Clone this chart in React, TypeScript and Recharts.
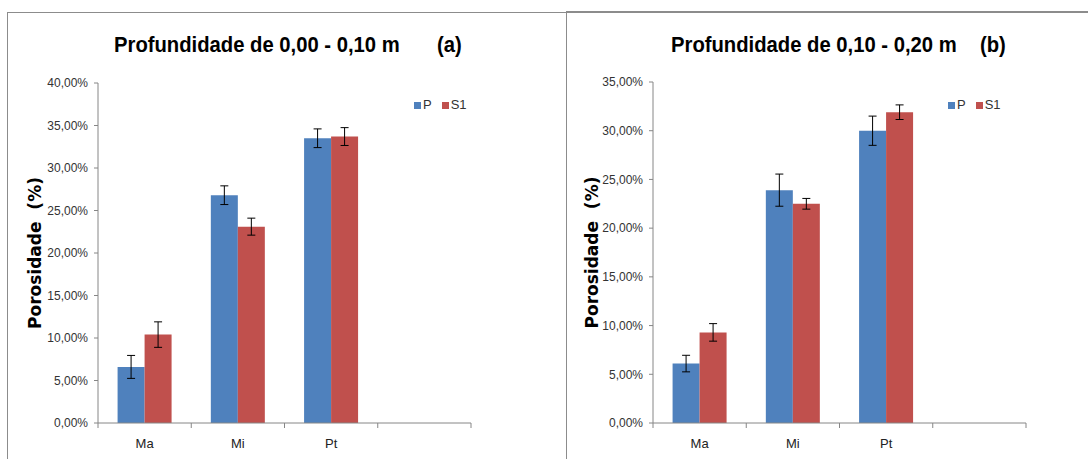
import React from "react";
import { BarChart, Bar, XAxis, YAxis, Legend, ErrorBar, Label } from "recharts";

const categories = ["Ma", "Mi", "Pt", ""];

const aP = [6.6, 26.8, 33.5, null];
const aPErr = [1.35, 1.1, 1.1, null];
const aS1 = [10.4, 23.1, 33.7, null];
const aS1Err = [1.5, 1.0, 1.05, null];

const bP = [6.1, 23.9, 30.0, null];
const bPErr = [0.85, 1.65, 1.5, null];
const bS1 = [9.3, 22.5, 31.9, null];
const bS1Err = [0.9, 0.55, 0.75, null];

const ticksA = [0, 5, 10, 15, 20, 25, 30, 35, 40];
const ticksB = [0, 5, 10, 15, 20, 25, 30, 35];

const BLUE = "#4F81BD";
const RED = "#C0504D";
const AXIS = "#868686";
const FONT = "'Liberation Sans', Arial, sans-serif";

const build = (p: (number | null)[], pe: (number | null)[], s: (number | null)[], se: (number | null)[]) =>
  categories.map((c, i) => ({ cat: c, P: p[i], pErr: pe[i], S1: s[i], sErr: se[i] }));

const dataA = build(aP, aPErr, aS1, aS1Err);
const dataB = build(bP, bPErr, bS1, bS1Err);

const fmt = (v: number) => v.toFixed(2).replace(".", ",") + "%";

function CatTick(props: any) {
  const { x, y, payload, index, visibleTicksCount } = props;
  const off = payload && payload.offset ? payload.offset : 0;
  const last = index === visibleTicksCount - 1;
  return (
    <g>
      <line x1={x - off} x2={x - off} y1={y} y2={y + 5} stroke={AXIS} />
      {last ? <line x1={x + off} x2={x + off} y1={y} y2={y + 5} stroke={AXIS} /> : null}
      <text x={x} y={y + 20} textAnchor="middle" dominantBaseline="central" fontSize={13} fill="#222" fontFamily={FONT}>
        {payload.value}
      </text>
    </g>
  );
}

function YLab(props: any) {
  const { viewBox, cx, dy } = props;
  const x = viewBox.x + cx;
  const y = viewBox.y + viewBox.height / 2 + dy;
  return (
    <text
      x={x}
      y={y}
      transform={`rotate(-90, ${x}, ${y})`}
      textAnchor="middle"
      dominantBaseline="central"
      fontSize={17}
      fontWeight="bold"
      fontFamily="'DejaVu Sans', Verdana, sans-serif"
      fill="#000"
      style={{ whiteSpace: "pre" }}
    >
      {"Porosidade  (%)"}
    </text>
  );
}

type PanelProps = {
  data: any[];
  ticks: number[];
  max: number;
  left: number;
  top: number;
  width: number;
  margin: { top: number; right: number; left: number; bottom: number };
  yWidth: number;
  labelCx: number;
  labelDy: number;
  legendPos: { left: number; top: number };
  title: string;
  tag: string;
  titleLeft: number;
  tagLeft: number;
};

const titleStyle: React.CSSProperties = {
  position: "absolute",
  top: 29,
  fontFamily: FONT,
  fontWeight: "bold",
  fontSize: 22,
  lineHeight: "32px",
  color: "#000",
  whiteSpace: "nowrap",
  transform: "scaleX(0.92)",
  transformOrigin: "left center",
};

function Panel(p: PanelProps) {
  return (
    <>
      <div
        style={{
          position: "absolute",
          left: p.left,
          top: p.top,
          width: 2000,
          height: 600,
          border: "1px solid #8c8c8c",
          boxSizing: "border-box",
        }}
      />
      <div style={{ position: "absolute", left: p.left, top: p.top, fontFamily: FONT }}>
        <BarChart width={p.width} height={460} data={p.data} margin={p.margin} barCategoryGap="21%" barGap={0}>
          <XAxis
            dataKey="cat"
            stroke={AXIS}
            tickLine={false}
            tickSize={0}
            tickMargin={0}
            height={30}
            interval={0}
            tick={<CatTick />}
          />
          <YAxis
            domain={[0, p.max]}
            ticks={p.ticks}
            tickFormatter={fmt}
            stroke={AXIS}
            tickSize={4}
            tickMargin={6}
            width={p.yWidth}
            interval={0}
            tick={{ fill: "#333", fontSize: 12, fontFamily: FONT }}
          >
            <Label content={<YLab cx={p.labelCx} dy={p.labelDy} />} />
          </YAxis>
          <Legend
            layout="horizontal"
            verticalAlign="middle"
            align="center"
            iconType="square"
            iconSize={7}
            wrapperStyle={{ left: p.legendPos.left, top: p.legendPos.top, width: "auto", fontSize: 13, fontFamily: FONT }}
            formatter={(v: any) => <span style={{ color: "#333", marginLeft: -2 }}>{v}</span>}
          />
          <Bar dataKey="P" name="P" fill={BLUE} isAnimationActive={false}>
            <ErrorBar dataKey="pErr" width={4} stroke="#000" strokeWidth={1} />
          </Bar>
          <Bar dataKey="S1" name="S1" fill={RED} isAnimationActive={false}>
            <ErrorBar dataKey="sErr" width={4} stroke="#000" strokeWidth={1} />
          </Bar>
        </BarChart>
      </div>
      <div style={{ ...titleStyle, left: p.titleLeft }}>{p.title}</div>
      <div style={{ ...titleStyle, left: p.tagLeft }}>{p.tag}</div>
    </>
  );
}

export default function App() {
  return (
    <div
      style={{
        position: "absolute",
        left: 0,
        top: 0,
        width: 1088,
        height: 459,
        overflow: "hidden",
        background: "#fff",
      }}
    >
      <Panel
        data={dataA}
        ticks={ticksA}
        max={40}
        left={7}
        top={12}
        width={542}
        margin={{ top: 71, right: 78, left: 0, bottom: 19 }}
        yWidth={91}
        labelCx={28}
        labelDy={0}
        legendPos={{ left: 407, top: 85 }}
        title="Profundidade de 0,00 - 0,10 m"
        tag="(a)"
        titleLeft={114}
        tagLeft={437}
      />
      <Panel
        data={dataB}
        ticks={ticksB}
        max={35}
        left={566}
        top={11}
        width={540}
        margin={{ top: 71, right: 80, left: 0, bottom: 18 }}
        yWidth={87}
        labelCx={26}
        labelDy={0}
        legendPos={{ left: 382, top: 86 }}
        title="Profundidade de 0,10 - 0,20 m"
        tag="(b)"
        titleLeft={671}
        tagLeft={980}
      />
    </div>
  );
}
